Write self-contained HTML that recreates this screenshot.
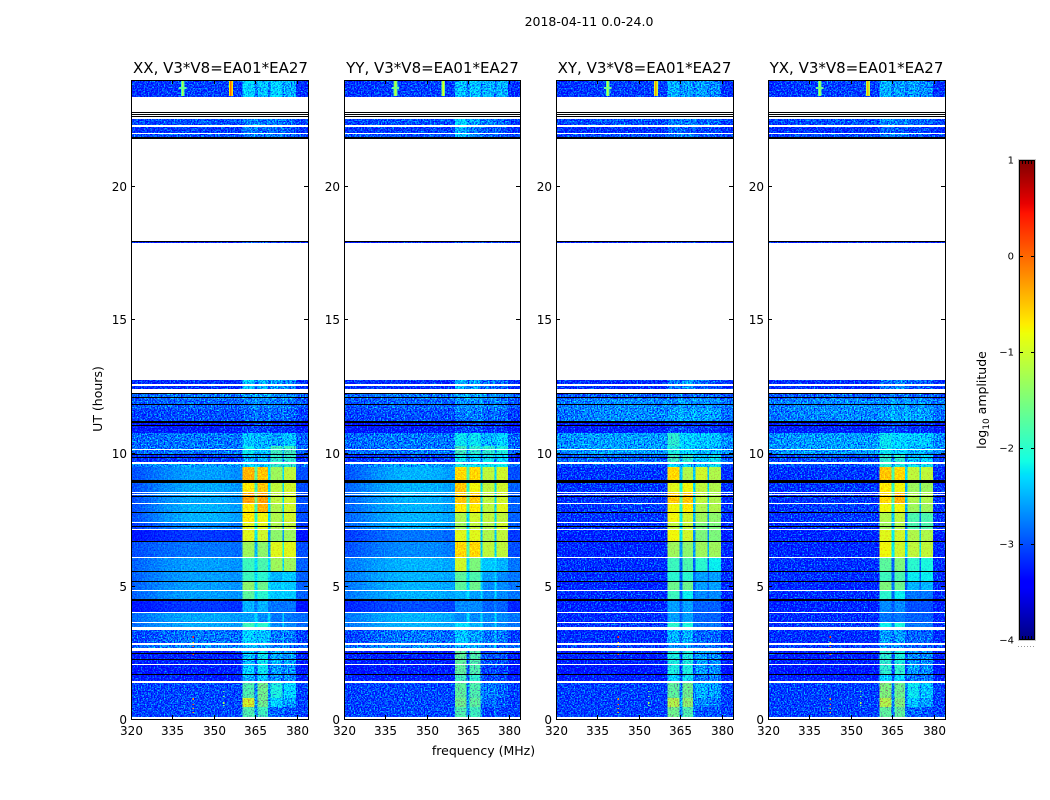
<!DOCTYPE html>
<html>
<head>
<meta charset="utf-8">
<title>2018-04-11 0.0-24.0</title>
<style>
html,body{margin:0;padding:0;background:#fff;width:1050px;height:800px;overflow:hidden}
svg{display:block}
text{font-family:"DejaVu Sans","Liberation Sans",sans-serif;fill:#000}
.tick{font-size:12px}
.axis-label{font-size:12.5px}
.panel-title{font-size:15px}
.cb-tick{font-size:10px}
</style>
</head>
<body>
<svg id="figure" width="1050" height="800" viewBox="0 0 1050 800" xmlns="http://www.w3.org/2000/svg">
  <defs>
    <filter id="grain-strong" filterUnits="userSpaceOnUse" x="0" y="0" width="1050" height="800" color-interpolation-filters="sRGB">
      <feTurbulence type="fractalNoise" baseFrequency="0.7" numOctaves="2" seed="4" result="t"/>
      <feColorMatrix in="t" type="matrix" values="0 0 0 0 .5  1 0 0 0 0  0 0 0 0 .5  0 0 0 0 1" result="n"/>
      <feComposite in="SourceGraphic" in2="n" operator="arithmetic" k1="0" k2="1" k3="2.4" k4="-1.2" result="c"/>
      <feComposite in="c" in2="SourceAlpha" operator="in"/>
    </filter>
    <filter id="grain-soft" filterUnits="userSpaceOnUse" x="0" y="0" width="1050" height="800" color-interpolation-filters="sRGB">
      <feTurbulence type="fractalNoise" baseFrequency="0.7" numOctaves="2" seed="9" result="t"/>
      <feColorMatrix in="t" type="matrix" values="0 0 0 0 .5  1 0 0 0 0  0 0 0 0 .5  0 0 0 0 1" result="n"/>
      <feComposite in="SourceGraphic" in2="n" operator="arithmetic" k1="0" k2="1" k3="0.8" k4="-0.4" result="c"/>
      <feComposite in="c" in2="SourceAlpha" operator="in"/>
    </filter>
  </defs>
  <text class="axis-label" x="589" y="26" text-anchor="middle">2018-04-11 0.0-24.0</text>
  <text class="panel-title" x="220.5" y="73" text-anchor="middle">XX, V3*V8=EA01*EA27</text>
  <text class="panel-title" x="432.5" y="73" text-anchor="middle">YY, V3*V8=EA01*EA27</text>
  <text class="panel-title" x="644.5" y="73" text-anchor="middle">XY, V3*V8=EA01*EA27</text>
  <text class="panel-title" x="856.5" y="73" text-anchor="middle">YX, V3*V8=EA01*EA27</text>
  <text class="axis-label" x="483.5" y="755" text-anchor="middle">frequency (MHz)</text>
  <text class="axis-label" x="0" y="0" text-anchor="middle" transform="translate(102,399) rotate(-90)">UT (hours)</text>
  <text class="axis-label" x="0" y="0" text-anchor="middle" transform="translate(986,400) rotate(-90)">log<tspan font-size="9" dy="3">10</tspan><tspan dy="-3"> amplitude</tspan></text>
  <g id="panels"></g>
  <g id="colorbar"></g>
</svg>
<script>
// ---- axis data ----
const xTickValues = [320, 335, 350, 365, 380];
const yTickValues = [0, 5, 10, 15, 20];
const colorbarTickValues = [-4, -3, -2, -1, 0, 1];
const colorbarTickLabels = ['\u22124', '\u22123', '\u22122', '\u22121', '0', '1'];

// ---- time rows that hold data, UT hours (anything not covered stays white) ----
const rowStartUT = [23.36,22.31,22.02,21.85,17.88,12.58,12.41,12.02,11.64,11.19,10.74,10.25,9.95,9.65,9.46,8.94,8.53,8.11,7.75,7.40,7.14,6.69,6.08,5.56,5.18,4.85,4.47,4.02,3.64,3.46,2.85,2.67,2.07,1.69,1.43,0.79,0.45,0.09];
const rowEndUT   = [24.00,22.52,22.24,21.98,17.95,12.73,12.51,12.21,12.02,11.64,11.12,10.74,10.25,9.95,9.58,9.46,8.88,8.49,8.09,7.75,7.36,7.11,6.65,6.06,5.52,5.15,4.82,4.44,3.99,3.62,3.34,2.78,2.55,2.03,1.66,1.36,0.79,0.45];
const rowIsGrainy = [1,1,1,1,1,1,1,1,1,1,1,1,1,1,1,0,0,0,0,0,0,0,0,0,0,0,0,0,0,0,1,1,1,1,1,1,1,1];

// ---- log10 amplitude per row: [left edge, mid background, band 1, band 2, band 3, band 4] ----
const levelsXX = [
[-3.2,-3.1,-2.3,-2.4,-2.3,-2.5],[-3.1,-3.0,-2.8,-2.8,-2.8,-2.9],[-3.2,-3.1,-2.8,-2.9,-2.9,-3.0],[-3.0,-3.0,-2.8,-2.8,-2.8,-2.9],
[-3.3,-3.3,-3.0,-3.0,-3.1,-3.1],[-3.2,-3.2,-2.3,-2.5,-2.6,-2.7],[-3.2,-3.2,-2.4,-2.5,-2.6,-2.7],[-2.9,-2.8,-2.6,-2.6,-2.7,-2.7],
[-3.0,-2.9,-2.8,-2.8,-2.8,-2.8],[-3.1,-3.0,-2.9,-2.9,-2.9,-2.9],[-3.4,-3.3,-3.1,-3.1,-3.2,-3.2],[-2.9,-2.8,-2.4,-2.5,-2.6,-2.4],
[-2.9,-2.8,-2.2,-2.4,-1.9,-1.9],[-3.2,-3.1,-2.5,-2.5,-2.0,-2.0],[-2.9,-2.6,-2.3,-2.4,-2.0,-2.0],[-3.0,-2.6,-0.4,-0.5,-1.3,-1.1],
[-3.0,-2.55,-0.7,-0.5,-1.1,-1.0],[-3.0,-2.55,-0.3,-0.3,-1.1,-1.0],[-3.0,-2.5,-0.7,-0.4,-1.2,-1.0],[-3.0,-2.5,-0.7,-0.8,-1.2,-1.0],
[-3.1,-2.7,-0.9,-0.9,-1.2,-1.1],[-3.3,-3.1,-0.9,-1.0,-1.4,-1.3],[-3.0,-2.8,-1.3,-1.4,-0.9,-0.9],[-2.9,-2.6,-1.9,-1.8,-1.3,-1.3],
[-2.9,-2.6,-1.9,-2.0,-2.5,-2.4],[-2.9,-2.6,-1.4,-1.6,-2.4,-2.4],[-2.9,-2.6,-1.7,-2.0,-2.4,-2.4],[-3.3,-3.1,-2.5,-2.5,-2.8,-2.8],
[-2.85,-2.55,-2.6,-2.7,-2.8,-2.8],[-2.85,-2.55,-1.9,-2.0,-2.7,-2.7],[-3.1,-2.8,-2.3,-2.4,-2.8,-2.8],[-2.9,-2.7,-2.5,-2.6,-2.8,-2.8],
[-3.3,-3.3,-2.4,-2.2,-2.5,-2.6],[-3.4,-3.3,-2.3,-2.2,-2.6,-2.7],[-3.3,-3.3,-2.5,-2.4,-2.7,-2.7],[-3.1,-3.05,-1.8,-1.6,-2.1,-2.3],
[-3.1,-3.05,-1.0,-1.6,-2.3,-2.6],[-3.1,-3.05,-1.8,-1.9,-2.9,-3.0]];
const levelsYY = [
[-3.2,-3.1,-2.4,-2.4,-2.5,-2.5],[-3.1,-3.0,-2.3,-2.6,-2.8,-2.9],[-3.2,-3.1,-2.5,-2.8,-3.0,-3.0],[-3.0,-3.0,-2.4,-2.7,-2.9,-3.0],
[-3.3,-3.3,-3.1,-3.1,-3.2,-3.2],[-3.2,-3.2,-2.5,-2.6,-2.8,-2.9],[-3.2,-3.2,-2.5,-2.6,-2.8,-2.9],[-2.9,-2.8,-2.6,-2.6,-2.7,-2.7],
[-3.0,-2.9,-2.7,-2.7,-2.8,-2.8],[-3.1,-3.0,-2.8,-2.8,-2.9,-2.9],[-3.4,-3.3,-3.1,-3.1,-3.2,-3.2],[-2.9,-2.8,-2.2,-2.2,-2.5,-2.3],
[-2.9,-2.8,-1.9,-2.0,-2.0,-2.1],[-3.2,-3.1,-2.2,-2.3,-2.2,-2.3],[-2.9,-2.6,-2.1,-2.2,-2.2,-2.2],[-3.0,-2.5,-0.6,-0.6,-1.1,-1.0],
[-2.9,-2.5,-0.5,-0.8,-1.1,-1.0],[-2.9,-2.5,-0.5,-0.5,-1.1,-1.0],[-2.9,-2.5,-0.7,-0.7,-1.1,-0.9],[-2.9,-2.5,-1.2,-1.0,-1.1,-1.1],
[-2.9,-2.5,-1.3,-1.1,-1.2,-1.0],[-3.1,-2.8,-0.9,-0.9,-1.2,-1.1],[-3.0,-2.7,-0.6,-0.6,-1.1,-1.1],[-2.8,-2.5,-1.0,-1.5,-2.4,-2.5],
[-2.8,-2.5,-1.7,-1.8,-2.6,-2.7],[-2.8,-2.5,-1.7,-1.6,-2.7,-2.7],[-2.8,-2.5,-2.5,-2.6,-2.7,-2.7],[-3.2,-3.0,-2.7,-2.7,-2.9,-2.9],
[-2.8,-2.5,-2.7,-2.7,-2.7,-2.7],[-2.8,-2.5,-2.3,-2.5,-2.7,-2.7],[-3.1,-2.8,-2.4,-2.6,-2.8,-2.8],[-2.9,-2.7,-2.5,-2.6,-2.8,-2.8],
[-3.3,-3.3,-1.7,-1.8,-3.0,-3.0],[-3.4,-3.3,-1.7,-1.8,-3.1,-3.1],[-3.3,-3.3,-1.9,-2.0,-3.1,-3.1],[-3.1,-3.05,-1.7,-1.8,-2.8,-2.9],
[-3.1,-3.05,-1.6,-1.7,-2.9,-3.0],[-3.1,-3.05,-1.8,-1.9,-3.1,-3.1]];
const levelsXY = [
[-3.2,-3.1,-2.5,-2.6,-2.6,-2.7],[-3.1,-3.0,-2.8,-2.8,-2.9,-2.9],[-3.2,-3.2,-2.9,-3.0,-3.1,-3.1],[-3.1,-3.0,-2.8,-2.8,-3.0,-3.0],
[-3.3,-3.3,-3.2,-3.2,-3.3,-3.3],[-3.2,-3.2,-2.8,-2.6,-2.9,-3.0],[-3.2,-3.2,-2.8,-2.7,-3.0,-3.0],[-3.0,-2.9,-2.9,-2.9,-2.9,-2.9],
[-2.8,-2.7,-2.7,-2.7,-2.7,-2.7],[-2.85,-2.7,-2.6,-2.6,-2.6,-2.6],[-3.3,-3.3,-3.1,-3.1,-3.2,-3.2],[-2.7,-2.6,-2.0,-2.3,-2.4,-2.4],
[-2.7,-2.6,-2.1,-2.3,-2.5,-2.5],[-2.9,-2.9,-1.9,-2.0,-2.4,-2.2],[-3.0,-3.0,-2.3,-2.4,-2.4,-2.2],[-3.2,-3.15,-0.6,-1.2,-1.0,-1.2],
[-3.2,-3.15,-0.9,-0.8,-1.1,-1.2],[-3.2,-3.15,-0.5,-0.5,-1.1,-1.2],[-3.2,-3.1,-0.8,-0.7,-1.2,-1.2],[-3.2,-3.15,-0.8,-1.0,-1.3,-1.4],
[-3.2,-3.15,-1.1,-1.1,-1.5,-1.5],[-3.3,-3.25,-0.8,-1.0,-1.5,-1.5],[-3.25,-3.25,-1.3,-1.4,-1.3,-1.3],[-3.2,-3.2,-1.9,-1.8,-2.0,-2.2],
[-3.2,-3.2,-2.0,-2.0,-2.6,-2.6],[-3.25,-3.25,-1.6,-1.6,-2.6,-2.6],[-3.25,-3.2,-1.9,-2.2,-2.7,-2.7],[-3.3,-3.25,-2.6,-2.6,-2.9,-2.9],
[-3.25,-3.2,-2.6,-2.6,-2.9,-2.9],[-3.2,-3.1,-2.0,-2.1,-2.8,-2.8],[-3.2,-3.2,-2.5,-2.5,-2.9,-2.9],[-3.1,-3.1,-2.7,-2.7,-2.9,-2.9],
[-3.3,-3.3,-2.1,-2.1,-2.6,-2.7],[-3.4,-3.4,-2.1,-2.1,-2.6,-2.7],[-3.3,-3.3,-2.3,-2.2,-2.8,-2.8],[-3.1,-3.1,-1.7,-1.6,-2.5,-2.6],
[-3.1,-3.1,-1.2,-1.4,-2.7,-2.8],[-3.1,-3.1,-1.6,-1.8,-3.0,-3.0]];
const levelsYX = [
[-3.2,-3.1,-2.5,-2.6,-2.6,-2.7],[-3.1,-3.0,-2.7,-2.8,-2.9,-2.9],[-3.2,-3.2,-2.9,-3.0,-3.1,-3.1],[-3.1,-3.0,-2.8,-2.8,-3.0,-3.0],
[-3.3,-3.3,-3.2,-3.2,-3.3,-3.3],[-3.2,-3.2,-2.8,-2.7,-2.9,-3.0],[-3.2,-3.2,-2.8,-2.7,-3.0,-3.0],[-3.0,-2.9,-2.9,-2.9,-2.9,-2.9],
[-2.8,-2.7,-2.7,-2.7,-2.7,-2.7],[-2.85,-2.7,-2.6,-2.6,-2.6,-2.6],[-3.3,-3.3,-3.1,-3.1,-3.2,-3.2],[-2.7,-2.6,-2.2,-2.3,-2.4,-2.4],
[-2.7,-2.6,-2.2,-2.3,-2.5,-2.5],[-3.1,-3.0,-2.0,-2.0,-2.4,-2.3],[-3.0,-3.0,-2.0,-2.1,-2.2,-2.2],[-3.2,-3.15,-0.5,-0.6,-1.1,-1.1],
[-3.2,-3.15,-0.7,-0.8,-1.3,-1.3],[-3.2,-3.15,-0.6,-0.4,-1.2,-1.2],[-3.2,-3.1,-0.8,-0.8,-1.3,-1.3],[-3.2,-3.15,-1.2,-1.1,-1.8,-1.8],
[-3.2,-3.15,-1.3,-1.2,-1.8,-1.8],[-3.3,-3.25,-0.9,-1.0,-1.2,-1.2],[-3.25,-3.25,-0.8,-1.0,-1.1,-1.1],[-3.2,-3.2,-1.7,-1.5,-2.0,-2.1],
[-3.2,-3.2,-1.9,-1.8,-2.2,-2.2],[-3.25,-3.25,-1.5,-1.6,-2.5,-2.5],[-3.25,-3.2,-2.0,-2.2,-2.8,-2.8],[-3.3,-3.25,-2.7,-2.7,-3.0,-3.0],
[-3.25,-3.2,-2.8,-2.8,-2.9,-2.9],[-3.2,-3.1,-2.2,-2.1,-2.8,-2.8],[-3.2,-3.2,-2.6,-2.6,-2.9,-2.9],[-3.1,-3.1,-2.7,-2.7,-2.9,-2.9],
[-3.3,-3.3,-2.0,-2.1,-2.7,-2.7],[-3.4,-3.4,-2.0,-2.0,-2.6,-2.7],[-3.3,-3.3,-2.3,-2.3,-2.8,-2.8],[-3.1,-3.1,-1.5,-1.6,-2.2,-2.4],
[-3.1,-3.1,-1.2,-1.5,-2.4,-2.6],[-3.1,-3.1,-1.7,-1.7,-2.9,-3.0]];

// ---- frequency structure, MHz ----
const bgFreqEdges = [320,322,324,326,328,330,332,335,338,341,344,348,352,356,360.3];
const bgShape = [0,0.12,0.24,0.36,0.48,0.6,0.72,0.84,0.94,1,1,1,0.95,0.8]; // share of the way from left-edge to mid level
const bandStartMHz = [360.3,365.7,370.4,375.4];
const bandEndMHz   = [364.6,369.6,374.7,379.7];
const rightEdgeMHz = 384;

// ---- flagged stretches, UT hours ----
const blackStartUT = [22.78,22.70,22.64,21.85,17.95,12.23,12.09,11.83,11.17,11.04,9.95,9.82,8.94,8.35,7.77,7.24,6.67,5.54,5.17,4.49,2.46,2.25,1.69];
const blackEndUT   = [22.76,22.69,22.62,21.80,17.92,12.19,12.07,11.79,11.10,11.00,9.92,9.80,8.88,8.33,7.75,7.20,6.65,5.52,5.15,4.44,2.44,2.23,1.66];
const whiteStartUT = [10.14,8.45];
const whiteEndUT   = [10.12,8.41];

// ---- narrow interference in the top row and single hot channels ----
const rfiFreqMHz = [338.7, 356.1];
const rfiLevelXX = [-1.2, 0.0];
const rfiLevelYY = [-1.1, -0.9];
const rfiLevelXY = [-1.1, -0.3];
const rfiLevelYX = [-1.1, -0.4];
const spikeFreqMHz = 342.5;
const spikeUT = [3.08,2.89,2.74,2.44,0.75,0.56,0.41,0.26];
const spikeLevel = [0.3,-0.7,-0.1,0.0,-0.2,0.0,-0.4,-0.4];
const faintSpikeFreqMHz = 353.6;
const faintSpikeUT = [1.05,0.83,0.60,0.49];
const faintSpikeLevel = [-1.6,-1.5,-1.2,-1.6];

// ---- layout ----
const panelLeft = [131,344,556,768];
const panelWidthPx = [177,176,177,177];
const panelKeys = ['xx','yy','xy','yx'];
const panelLevels = [levelsXX,levelsYY,levelsXY,levelsYX];
const panelRfi = [rfiLevelXX,rfiLevelYY,rfiLevelXY,rfiLevelYX];
const panelHasSpikes = [true,false,true,true];
const panelBackgroundAlwaysGrainy = [false,false,true,true];
const plotTop = 80, plotBottom = 719;
const freqMin = 320, freqMax = 384, utMax = 24;
const NS = 'http://www.w3.org/2000/svg';

const jetR = [[0,0],[0.35,0],[0.66,1],[0.89,1],[1,0.5]];
const jetG = [[0,0],[0.125,0],[0.375,1],[0.64,1],[0.91,0],[1,0]];
const jetB = [[0,0.5],[0.11,1],[0.34,1],[0.65,0],[1,0]];
function lerpTable(t, f) {
  for (let i = 1; i < t.length; i++) {
    if (f <= t[i][0]) return t[i-1][1] + (t[i][1]-t[i-1][1]) * (f-t[i-1][0]) / (t[i][0]-t[i-1][0]);
  }
  return t[t.length-1][1];
}
function jet(level) {
  const f = Math.max(0, Math.min(1, (level + 4) / 5));
  const c = (t) => Math.round(255 * lerpTable(t, f));
  return 'rgb(' + c(jetR) + ',' + c(jetG) + ',' + c(jetB) + ')';
}
function xScale(freq, p) { return panelLeft[p] + (freq - freqMin) / (freqMax - freqMin) * panelWidthPx[p]; }
function yScale(ut) { return plotBottom - ut / utMax * (plotBottom - plotTop); }
function cbScale(v) { return 640 - (v + 4) / 5 * 480; }

function cell(parent, x0, x1, y0, y1, fill) {
  const r = document.createElementNS(NS, 'rect');
  const ry0 = Math.round(y0);
  const ry1 = Math.max(ry0 + 1, Math.round(y1));
  r.setAttribute('x', x0.toFixed(2));
  r.setAttribute('y', ry0);
  r.setAttribute('width', (x1 - x0).toFixed(2));
  r.setAttribute('height', ry1 - ry0);
  r.setAttribute('fill', fill);
  r.setAttribute('shape-rendering', 'crispEdges');
  
  
  parent.appendChild(r);
  return r;
}
function line(parent, x1, y1, x2, y2, stroke) {
  const l = document.createElementNS(NS, 'line');
  l.setAttribute('x1', x1); l.setAttribute('y1', y1);
  l.setAttribute('x2', x2); l.setAttribute('y2', y2);
  l.setAttribute('stroke', stroke);
  l.setAttribute('stroke-width', '1');
  
  
  parent.appendChild(l);
}
function label(parent, x, y, anchor, cls, str) {
  const t = document.createElementNS(NS, 'text');
  t.setAttribute('x', x); t.setAttribute('y', y);
  t.setAttribute('text-anchor', anchor);
  t.setAttribute('class', cls);
  
  
  t.textContent = str;
  parent.appendChild(t);
}

const panelsRoot = document.getElementById('panels');
panelKeys.forEach(function (key, p) {
  const left = panelLeft[p], levels = panelLevels[p], width = panelWidthPx[p];
  const g = document.createElementNS(NS, 'g');
  
  
  panelsRoot.appendChild(g);
  const strong = document.createElementNS(NS, 'g');
  strong.setAttribute('filter', 'url(#grain-strong)');
  
  
  const soft = document.createElementNS(NS, 'g');
  soft.setAttribute('filter', 'url(#grain-soft)');
  
  
  g.appendChild(strong);
  g.appendChild(soft);

  rowStartUT.forEach(function (start, r) {
    const bandTarget = rowIsGrainy[r] ? strong : soft;
    const bgTarget = (rowIsGrainy[r] || panelBackgroundAlwaysGrainy[p]) ? strong : soft;
    const y0 = yScale(rowEndUT[r]), y1 = yScale(start);
    const lv = levels[r];
    const leftLv = lv[0], midLv = lv[1];
    bgShape.forEach(function (w, c) {
      cell(bgTarget, xScale(bgFreqEdges[c], p), xScale(bgFreqEdges[c+1], p), y0, y1, jet(leftLv + (midLv - leftLv) * w));
    });
    bandStartMHz.forEach(function (fs, b) {
      const bandLv = lv[2 + b];
      cell(bandTarget, xScale(fs, p), xScale(bandEndMHz[b], p), y0, y1, jet(bandLv));
      const nextStart = b < 3 ? bandStartMHz[b+1] : rightEdgeMHz;
      const nextLv = b < 3 ? lv[3 + b] : leftLv;
      const gapLv = b < 3 ? Math.max(Math.min(midLv + 0.3, -2.3), Math.min(bandLv, nextLv) - 1.2) : leftLv;
      cell(b < 3 ? bandTarget : bgTarget, xScale(bandEndMHz[b], p), xScale(nextStart, p), y0, y1, jet(gapLv));
    });
  });

  const marks = document.createElementNS(NS, 'g');
  
  
  g.appendChild(marks);
  rfiFreqMHz.forEach(function (f, i) {
    const lv = panelRfi[p][i];
    cell(marks, xScale(f - 0.7, p), xScale(f + 0.7, p), yScale(23.95), yScale(23.4), jet(lv - 0.7));
    cell(marks, xScale(f - 0.3, p), xScale(f + 0.3, p), yScale(23.95), yScale(23.4), jet(lv));
  });
  cell(marks, xScale(rfiFreqMHz[0] - 1.3, p), xScale(rfiFreqMHz[0] + 1.3, p), yScale(23.73), yScale(23.67), jet(panelRfi[p][0] - 0.5));
  if (panelHasSpikes[p]) {
    spikeUT.forEach(function (ut, i) {
      cell(marks, xScale(spikeFreqMHz - 0.25, p), xScale(spikeFreqMHz + 0.25, p), yScale(ut + 0.02), yScale(ut - 0.02), jet(spikeLevel[i]));
    });
    faintSpikeUT.forEach(function (ut, i) {
      cell(marks, xScale(faintSpikeFreqMHz - 0.25, p), xScale(faintSpikeFreqMHz + 0.25, p), yScale(ut + 0.02), yScale(ut - 0.02), jet(faintSpikeLevel[i]));
    });
  }

  const flags = document.createElementNS(NS, 'g');
  
  
  g.appendChild(flags);
  blackStartUT.forEach(function (ut, i) {
    cell(flags, left, left + width, Math.floor(yScale(ut)), yScale(blackEndUT[i]), '#000');
  });
  whiteStartUT.forEach(function (ut, i) {
    cell(flags, left, left + width, Math.floor(yScale(ut)), yScale(whiteEndUT[i]), '#fff');
  });

  const frame = document.createElementNS(NS, 'rect');
  frame.setAttribute('x', left + 0.5);
  frame.setAttribute('y', plotTop + 0.5);
  frame.setAttribute('width', width);
  frame.setAttribute('height', plotBottom - plotTop);
  frame.setAttribute('fill', 'none');
  frame.setAttribute('stroke', '#000');
  
  
  g.appendChild(frame);

  xTickValues.forEach(function (v) {
    const x = Math.round(xScale(v, p)) + 0.5;
    line(g, x, plotBottom, x, plotBottom - 4, '#000');
    line(g, x, plotTop, x, plotTop + 4, '#000');
    label(g, x, 735, 'middle', 'tick', String(v));
  });
  yTickValues.forEach(function (v) {
    const y = Math.round(yScale(v) - 0.2) + 0.5;
    line(g, left, y, left + 4, y, '#000');
    line(g, left + width, y, left + width - 4, y, '#000');
    label(g, left - 4, y + 4.5, 'end', 'tick', String(v));
  });
});

// ---- colour bar ----
const cb = document.getElementById('colorbar');


const cbSteps = 240;
for (let i = 0; i < cbSteps; i++) {
  const v0 = -4 + 5 * i / cbSteps, v1 = -4 + 5 * (i + 1) / cbSteps;
  const s = document.createElementNS(NS, 'rect');
  s.setAttribute('x', 1019);
  s.setAttribute('y', cbScale(v1));
  s.setAttribute('width', 16);
  s.setAttribute('height', cbScale(v0) - cbScale(v1) + 0.5);
  s.setAttribute('fill', jet((v0 + v1) / 2));
  s.setAttribute('shape-rendering', 'crispEdges');
  
  
  cb.appendChild(s);
}
const cbOuter = document.createElementNS(NS, 'rect');
cbOuter.setAttribute('x', 1018.5);
cbOuter.setAttribute('y', 159.5);
cbOuter.setAttribute('width', 17);
cbOuter.setAttribute('height', 481);
cbOuter.setAttribute('fill', 'none');
cbOuter.setAttribute('stroke', '#c8c8c8');


cb.appendChild(cbOuter);
const cbInner = document.createElementNS(NS, 'rect');
cbInner.setAttribute('x', 1019.5);
cbInner.setAttribute('y', 160.5);
cbInner.setAttribute('width', 15);
cbInner.setAttribute('height', 479);
cbInner.setAttribute('fill', 'none');
cbInner.setAttribute('stroke', '#000');


cb.appendChild(cbInner);
colorbarTickValues.forEach(function (v, i) {
  const y = Math.min(639.5, Math.max(160.5, Math.round(cbScale(v)) + 0.5));
  if (v > -4 && v < 1) {
    line(cb, 1019, y, 1023, y, '#000');
    line(cb, 1031, y, 1035, y, '#000');
  }
  label(cb, 1014, Math.round(cbScale(v)) + 3.5, 'end', 'cb-tick', colorbarTickLabels[i]);
});
[1022.5, 1025.5, 1028.5, 1031.5].forEach(function (x) {
  line(cb, x, 160, x, 164, '#000');
  line(cb, x, 636, x, 640, '#000');
});
[1018, 1021, 1024, 1027, 1030, 1033].forEach(function (x) {
  const d = document.createElementNS(NS, 'rect');
  d.setAttribute('x', x);
  d.setAttribute('y', 646);
  d.setAttribute('width', 1);
  d.setAttribute('height', 1);
  d.setAttribute('fill', '#999');
  
  
  cb.appendChild(d);
});
</script>
</body>
</html>
